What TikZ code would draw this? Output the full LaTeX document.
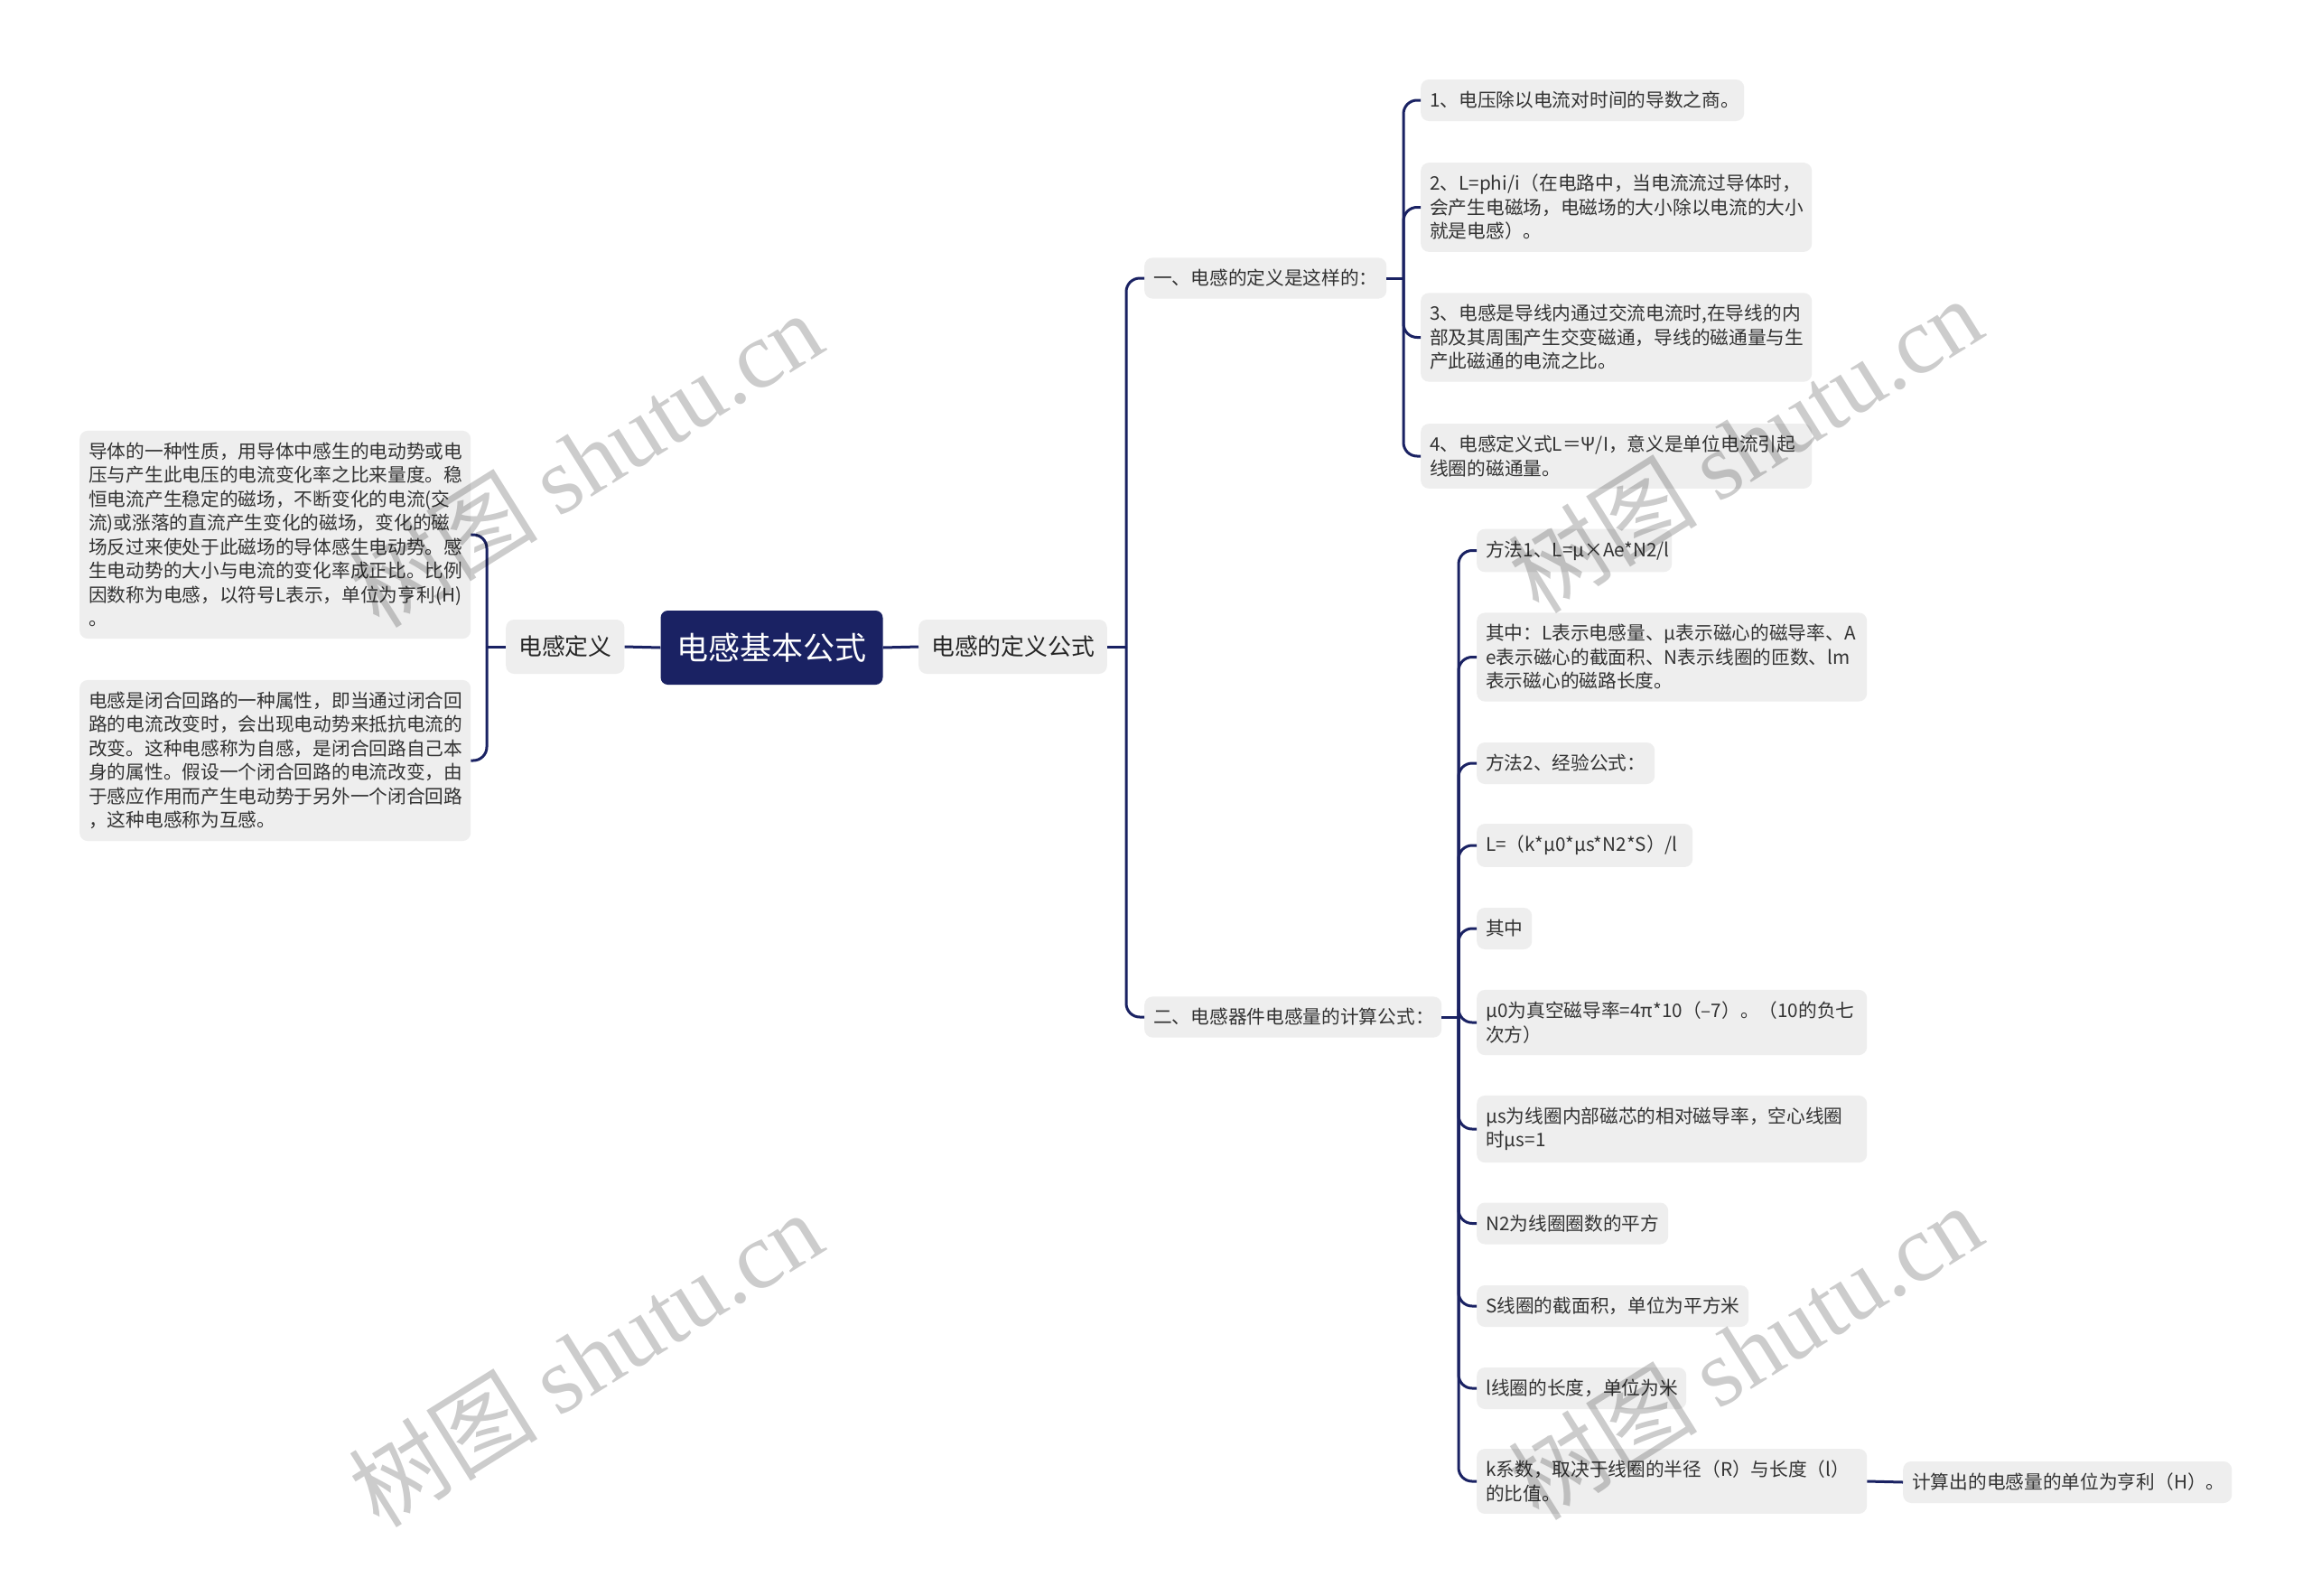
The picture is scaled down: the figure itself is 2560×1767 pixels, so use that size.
\documentclass[tikz,border=0pt]{standalone}
\usepackage{fontspec}
\setmainfont{Noto Sans CJK SC}
\newfontfamily\wmserif{Liberation Serif}
\usetikzlibrary{positioning}
\definecolor{navy}{HTML}{1A2263}
\definecolor{boxgray}{HTML}{EEEEEE}
\definecolor{txt}{HTML}{333333}
\begin{document}
\begin{tikzpicture}[x=1pt,y=-1pt,
  conn/.style={draw=navy,line width=3pt,rounded corners=15pt},
  rootbox/.style={fill=navy,text=white,rounded corners=8pt,inner xsep=18pt,minimum height=82pt,font=\fontsize{35}{42}\selectfont},
  lvone/.style={fill=boxgray,text=black!85,rounded corners=9pt,inner xsep=14pt,minimum height=60pt,anchor=west,font=\fontsize{25.8}{31}\selectfont},
  leafbox/.style={fill=boxgray,text=txt,rounded corners=9pt,inner xsep=10pt,inner ysep=13pt,minimum height=46pt,anchor=west,align=left,font=\fontsize{20.7}{26.5}\selectfont},
  wm/.style={text=black,text opacity=0.2,rotate=32,font=\fontsize{105}{115}\selectfont}
]
\useasboundingbox (0,0) rectangle (2560,1767);
\fill[white] (0,0) rectangle (2560,1767);

% main nodes
\node[rootbox] (root) at (854.5,717) {电感基本公式};
\node[lvone] (def) at (560,716) {电感定义};
\node[lvone] (form) at (1017,716) {电感的定义公式};

% left leaves
\node[leafbox,text width=413pt] (la) at (88,592) {导体的一种性质，用导体中感生的电动势或电\\压与产生此电压的电流变化率之比来量度。稳\\恒电流产生稳定的磁场，不断变化的电流(交\\流)或涨落的直流产生变化的磁场，变化的磁\\场反过来使处于此磁场的导体感生电动势。感\\生电动势的大小与电流的变化率成正比。比例\\因数称为电感，以符号L表示，单位为亨利(H)\\。};
\node[leafbox,text width=413pt] (lb) at (88,842) {电感是闭合回路的一种属性，即当通过闭合回\\路的电流改变时，会出现电动势来抵抗电流的\\改变。这种电感称为自感，是闭合回路自己本\\身的属性。假设一个闭合回路的电流改变，由\\于感应作用而产生电动势于另外一个闭合回路\\，这种电感称为互感。};

% second level
\node[leafbox,text width=248pt,minimum height=45pt] (s1) at (1267,308) {一、电感的定义是这样的：};
\node[leafbox,text width=309pt,minimum height=45pt] (s2) at (1267,1126) {二、电感器件电感量的计算公式：};

% children of s1
\node[leafbox,text width=338pt] (c1) at (1573,111) {1、电压除以电流对时间的导数之商。};
\node[leafbox,text width=413pt] (c2) at (1573,229.5) {2、L=phi/i（在电路中，当电流流过导体时，\\会产生电磁场，电磁场的大小除以电流的大小\\就是电感）。};
\node[leafbox,text width=413pt] (c3) at (1573,373.5) {3、电感是导线内通过交流电流时,在导线的内\\部及其周围产生交变磁通，导线的磁通量与生\\产此磁通的电流之比。};
\node[leafbox,text width=413pt] (c4) at (1573,505) {4、电感定义式L＝Ψ/I，意义是单位电流引起\\线圈的磁通量。};

% children of s2
\node[leafbox,text width=196pt] (d1) at (1635,609.5) {方法1、L=μ×Ae*N2/l};
\node[leafbox,text width=412pt] (d2) at (1635,727.5) {其中：L表示电感量、μ表示磁心的磁导率、A\\e表示磁心的截面积、N表示线圈的匝数、lm\\表示磁心的磁路长度。};
\node[leafbox,text width=177pt] (d3) at (1635,845) {方法2、经验公式：};
\node[leafbox,text width=219pt] (d4) at (1635,936) {L=（k*μ0*μs*N2*S）/l};
\node[leafbox,text width=41pt] (d5) at (1635,1028) {其中};
\node[leafbox,text width=412pt] (d6) at (1635,1132) {μ0为真空磁导率=4π*10（–7）。（10的负七\\次方）};
\node[leafbox,text width=412pt] (d7) at (1635,1250) {μs为线圈内部磁芯的相对磁导率，空心线圈\\时μs=1};
\node[leafbox,text width=192pt] (d8) at (1635,1354.5) {N2为线圈圈数的平方};
\node[leafbox,text width=281pt] (d9) at (1635,1446) {S线圈的截面积，单位为平方米};
\node[leafbox,text width=212pt] (d10) at (1635,1537) {l线圈的长度，单位为米};
\node[leafbox,text width=412pt] (d11) at (1635,1640) {k系数，取决于线圈的半径（R）与长度（l）\\的比值。};
\node[leafbox,text width=344pt] (e1) at (2107,1641) {计算出的电感量的单位为亨利（H）。};

% bus coordinates
\coordinate (bl) at (539,716);
\coordinate (bf) at (1247,716);
\coordinate (b1) at (1554,308);
\coordinate (b2) at (1615,1126);

% connectors
\draw[conn] (root.west) -- (def.east);
\draw[conn] (root.east) -- (form.west);
\draw[conn] (def.west) -- (bl);
\draw[conn] (bl) |- (la.east);
\draw[conn] (bl) |- (lb.east);
\draw[conn] (form.east) -- (bf);
\draw[conn] (bf) |- (s1.west);
\draw[conn] (bf) |- (s2.west);
\draw[conn] (s1.east) -- (b1);
\foreach \n in {c1,c2,c3,c4} \draw[conn] (b1) |- (\n.west);
\draw[conn] (s2.east) -- (b2);
\foreach \n in {d1,d2,d3,d4,d5,d6,d7,d8,d9,d10,d11} \draw[conn] (b2) |- (\n.west);
\draw[conn] (d11.east) -- (e1.west);

% watermarks
\node[wm] (w1) at (648,508) {树图 {\wmserif shutu.cn}};
\node[wm] (w2) at (1932,492) {树图 {\wmserif shutu.cn}};
\node[wm] (w3) at (648,1504) {树图 {\wmserif shutu.cn}};
\node[wm] (w4) at (1932,1496) {树图 {\wmserif shutu.cn}};
\end{tikzpicture}
\end{document}
